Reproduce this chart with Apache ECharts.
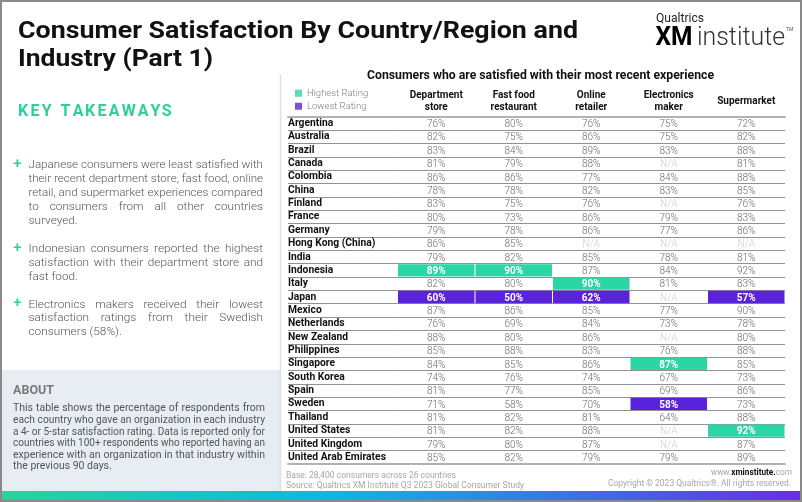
<!DOCTYPE html>
<html><head><meta charset="utf-8">
<script src="https://cdn.jsdelivr.net/npm/echarts@6/dist/echarts.min.js"></script>
<style>html,body{margin:0;padding:0;background:#fff}#c{width:802px;height:502px}</style>
</head><body><div id="c"></div>
<script>
const countries = ['Argentina','Australia','Brazil','Canada','Colombia','China','Finland','France','Germany','Hong Kong (China)','India','Indonesia','Italy','Japan','Mexico','Netherlands','New Zealand','Philippines','Singapore','South Korea','Spain','Sweden','Thailand','United States','United Kingdom','United Arab Emirates'];
const industries = ['Department\nstore','Fast food\nrestaurant','Online\nretailer','Electronics\nmaker','Supermarket'];
const departmentStore = [76,82,83,81,86,78,83,80,79,86,79,89,82,60,87,76,88,85,84,74,81,71,81,81,79,85];
const fastFood = [80,75,84,79,86,78,75,73,78,85,82,90,80,50,86,69,80,88,85,76,77,58,82,82,80,82];
const onlineRetailer = [76,86,89,88,77,82,76,86,86,null,85,87,90,62,85,84,86,83,86,74,85,70,81,88,87,79];
const electronicsMaker = [75,75,83,null,84,83,null,79,77,null,78,84,81,null,77,73,null,76,87,67,69,58,64,null,null,79];
const supermarket = [72,82,88,81,88,85,76,83,86,null,81,92,83,57,90,78,80,88,85,73,86,73,88,92,87,89];
const highestRating = ['Indonesia','Indonesia','Italy','Singapore','United States'];
const lowestRating = ['Japan','Japan','Japan','Sweden','Japan'];

const TEAL = '#2bd6a5', PURPLE = '#5a22dc';
const columns = [departmentStore, fastFood, onlineRetailer, electronicsMaker, supermarket];
const cells = [];
columns.forEach((col, j) => col.forEach((v, i) => {
  const flag = countries[i] === highestRating[j] ? 1 : (countries[i] === lowestRating[j] ? 2 : 0);
  cells.push([j, i, v === null ? -1 : v, flag]);
}));

const ctx = document.createElement('canvas').getContext('2d');
const W = (t, f) => { ctx.font = f; return ctx.measureText(t).width; };
function txt(t, x, y, font, fill, extra) {
  return Object.assign({type:'text', x:x, y:y, style:{text:t, font:font, fill:fill, verticalAlign:'middle', align:'left'}}, extra || {});
}
function justified(lines, x, y0, lh, width, font, fill) {
  const out = [];
  lines.forEach((ln, k) => {
    const y = y0 + k * lh;
    const nat = W(ln, font);
    if (k === lines.length - 1) {
      out.push(txt(ln, x, y, font, fill, nat > width ? {scaleX: width / nat} : {}));
      return;
    }
    if (nat >= width) { out.push(txt(ln, x, y, font, fill, {scaleX: width / nat})); return; }
    const words = ln.split(' ');
    const tot = words.reduce((a, w) => a + W(w, font), 0);
    const gap = (width - tot) / (words.length - 1);
    let cx = x;
    words.forEach(w => { out.push(txt(w, cx, y, font, fill)); cx += W(w, font) + gap; });
  });
  return out;
}
function spaced(t, x, y, width, font, fill) {
  const gap = (width - W(t, font)) / (t.length - 1);
  return t.split('').map((ch, i) => txt(ch, x + W(t.slice(0, i), font) + i * gap, y, font, fill));
}
function fit(t, plain, x, y, width, font, fill, align, rich) {
  const s = width / W(plain, font);
  return {type:'text', x:x, y:y, scaleX:s, style:{text:t, font:font, fill:fill, align:align, verticalAlign:'middle', rich:rich}};
}

const bodyFont = '300 11.8px Roboto', bodyFill = '#555';
const plusFont = '500 15px Roboto';
const plusStyle = (y) => ({type:'text', x:17.5, y:y, style:{text:'+', font:plusFont, fill:'#2dcf9e', align:'center', verticalAlign:'middle'}});
let graphics = [];
graphics.push({type:'rect', z:-10, shape:{x:2, y:370, width:278, height:121}, style:{fill:'#e8edf3'}});
graphics.push({type:'line', z:-5, shape:{x1:280.5, y1:75, x2:280.5, y2:491}, style:{stroke:'#e0e0e0', lineWidth:1, shadowBlur:3, shadowColor:'rgba(0,0,0,0.15)'}});
graphics.push(fit('Consumer Satisfaction By Country/Region and', 'Consumer Satisfaction By Country/Region and', 18, 32.3, 560, 'bold 23.4px Roboto', '#111', 'left'));
graphics.push(fit('Industry (Part 1)', 'Industry (Part 1)', 18, 59.8, 195, 'bold 23.4px Roboto', '#111', 'left'));
graphics = graphics.concat(spaced('KEY TAKEAWAYS', 18, 112, 153.5, 'bold 16px Roboto', '#2dcf9e'));
graphics.push(plusStyle(164), plusStyle(248), plusStyle(303.5));
graphics = graphics.concat(justified([
  'Japanese consumers were least satisfied with',
  'their recent department store, fast food, online',
  'retail, and supermarket experiences compared',
  'to consumers from all other countries',
  'surveyed.'], 28.5, 165.5, 14, 234.5, bodyFont, bodyFill));
graphics = graphics.concat(justified([
  'Indonesian consumers reported the highest',
  'satisfaction with their department store and',
  'fast food.'], 28.5, 249.2, 13.7, 234.5, bodyFont, bodyFill));
graphics = graphics.concat(justified([
  'Electronics makers received their lowest',
  'satisfaction ratings from their Swedish',
  'consumers (58%).'], 28.5, 304.8, 13.7, 234.5, bodyFont, bodyFill));
graphics.push(txt('ABOUT', 13, 391.3, 'bold 12.5px Roboto', '#7a7a7a'));
graphics = graphics.concat(justified([
  'This table shows the percentage of respondents from',
  'each country who gave an organization in each industry',
  'a 4- or 5-star satisfaction rating. Data is reported only for',
  'countries with 100+ respondents who reported having an',
  'experience with an organization in that industry within',
  'the previous 90 days.'], 13, 408.8, 11.55, 252, '10.5px Roboto', '#555'));
graphics.push(fit('Consumers who are satisfied with their most recent experience', 'Consumers who are satisfied with their most recent experience', 540.5, 76.3, 347, 'bold 12px Roboto', '#111', 'center'));
graphics.push(fit('Qualtrics', 'Qualtrics', 656, 18.8, 48, '12px Roboto', '#222', 'left'));
graphics.push(fit('XM', 'XM', 655.5, 38.6, 37, 'bold 25px Roboto',
  new echarts.graphic.LinearGradient(655, 0, 693, 0, [{offset:0,color:'#16c9ea'},{offset:1,color:'#3256e0'}], true), 'left'));
graphics.push(fit('institute', 'institute', 697, 38.6, 88, '300 25px Roboto', '#333', 'left'));
graphics.push(txt('TM', 786, 30, '5px Roboto', '#555'));
graphics.push(fit('Base: 28,400 consumers across 26 countries', 'Base: 28,400 consumers across 26 countries', 286, 475.5, 170, '9.5px Roboto', '#a6a6a6', 'left'));
graphics.push(fit('Source: Qualtrics XM Institute Q3 2023 Global Consumer Study', 'Source: Qualtrics XM Institute Q3 2023 Global Consumer Study', 286, 485.5, 238, '9.5px Roboto', '#a6a6a6', 'left'));
graphics.push(fit('www.{b|xminstitute.}com', 'www.xminstitute.com', 792, 473, 80, '9.5px Roboto', '#a6a6a6', 'right', {b:{font:'bold 9.5px Roboto', fill:'#111'}}));
graphics.push(fit('Copyright \u00a9 2023 Qualtrics\u00ae. All rights reserved.', 'Copyright \u00a9 2023 Qualtrics\u00ae. All rights reserved.', 791, 483.8, 183, '9.5px Roboto', '#a6a6a6', 'right'));
graphics.push({type:'rect', z:50, shape:{x:0, y:491, width:802, height:11},
  style:{fill:new echarts.graphic.LinearGradient(0,0,1,0,[{offset:0,color:'#28d39c'},{offset:0.4,color:'#12b6e2'},{offset:0.7,color:'#3577e6'},{offset:1,color:'#6b2ede'}])}});
graphics.push({type:'rect', z:100, shape:{x:1, y:1, width:800, height:500}, style:{fill:'none', stroke:'#8a8a8a', lineWidth:2}});

const GRID_TOP = 116.7, GRID_BOTTOM = 38;
const split = {show:true, interval:0, lineStyle:{color:'#929292', width:1}};
const edge = {show:true, lineStyle:{color:'#b2b2b2', width:2}};
const none = {show:false};

const chart = echarts.init(document.getElementById('c'), null, {renderer:'canvas'});
chart.setOption({
  animation:false,
  textStyle:{fontFamily:'Roboto'},
  grid:[
    {left:288, right:404.5, top:GRID_TOP, bottom:GRID_BOTTOM},
    {left:397.5, right:17, top:GRID_TOP, bottom:GRID_BOTTOM}
  ],
  xAxis:[
    {gridIndex:0, type:'category', data:[''], position:'top', axisLine:edge, axisTick:none, axisLabel:none},
    {gridIndex:0, type:'category', data:[''], position:'bottom', axisLine:edge, axisTick:none, axisLabel:none},
    {gridIndex:1, type:'category', data:industries, position:'top', axisLine:edge, axisTick:none,
      axisLabel:{interval:0, margin:15, fontSize:10, fontWeight:'bold', color:'#111', lineHeight:11.5, verticalAlign:'middle', fontFamily:'Roboto'}},
    {gridIndex:1, type:'category', data:industries, position:'bottom', axisLine:edge, axisTick:none, axisLabel:none}
  ],
  yAxis:[
    {gridIndex:0, type:'category', data:countries, inverse:true, axisLine:none, axisTick:none, splitLine:split,
      axisLabel:{inside:true, interval:0, margin:0, fontSize:10.3, fontWeight:'bold', color:'#111', fontFamily:'Roboto', align:'left', padding:[2,0,0,0]}},
    {gridIndex:1, type:'category', data:countries, inverse:true, axisLine:none, axisTick:none, splitLine:split, axisLabel:none}
  ],
  legend:{orient:'vertical', left:290, top:82.5, itemWidth:7, itemHeight:7, itemGap:1.5, selectedMode:false, icon:'rect',
    textStyle:{fontSize:9.5, color:'#808080', fontWeight:300, fontFamily:'Roboto', lineHeight:11.5},
    data:['Highest Rating','Lowest Rating']},
  series:[
    {name:'Highest Rating', type:'scatter', xAxisIndex:2, yAxisIndex:1, data:[], itemStyle:{color:TEAL}},
    {name:'Lowest Rating', type:'scatter', xAxisIndex:2, yAxisIndex:1, data:[], itemStyle:{color:PURPLE}},
    {name:'cells', type:'custom', xAxisIndex:2, yAxisIndex:1, data:cells, encode:{x:0, y:1}, z:3,
      renderItem:function(params, api){
        const j = api.value(0), i = api.value(1), v = api.value(2), f = api.value(3);
        const p = api.coord([j, i]);
        const s = api.size([1, 1]);
        const ch = [];
        if (f) ch.push({type:'rect', shape:{x:p[0]-s[0]/2+0.5, y:p[1]-s[1]/2+0.5, width:s[0]-1, height:s[1]-1},
          style:{fill: f === 1 ? TEAL : PURPLE}});
        ch.push({type:'text', x:p[0], y:p[1]+1.2, style:{text: v < 0 ? 'N/A' : v + '%', align:'center', verticalAlign:'middle',
          fill: f ? '#fff' : (v < 0 ? '#c8d2dc' : '#6b6b6b'), font: (f ? 'bold ' : '300 ') + '10px Roboto'}});
        return {type:'group', children:ch};
      }}
  ],
  graphic:graphics
});
</script></body></html>
